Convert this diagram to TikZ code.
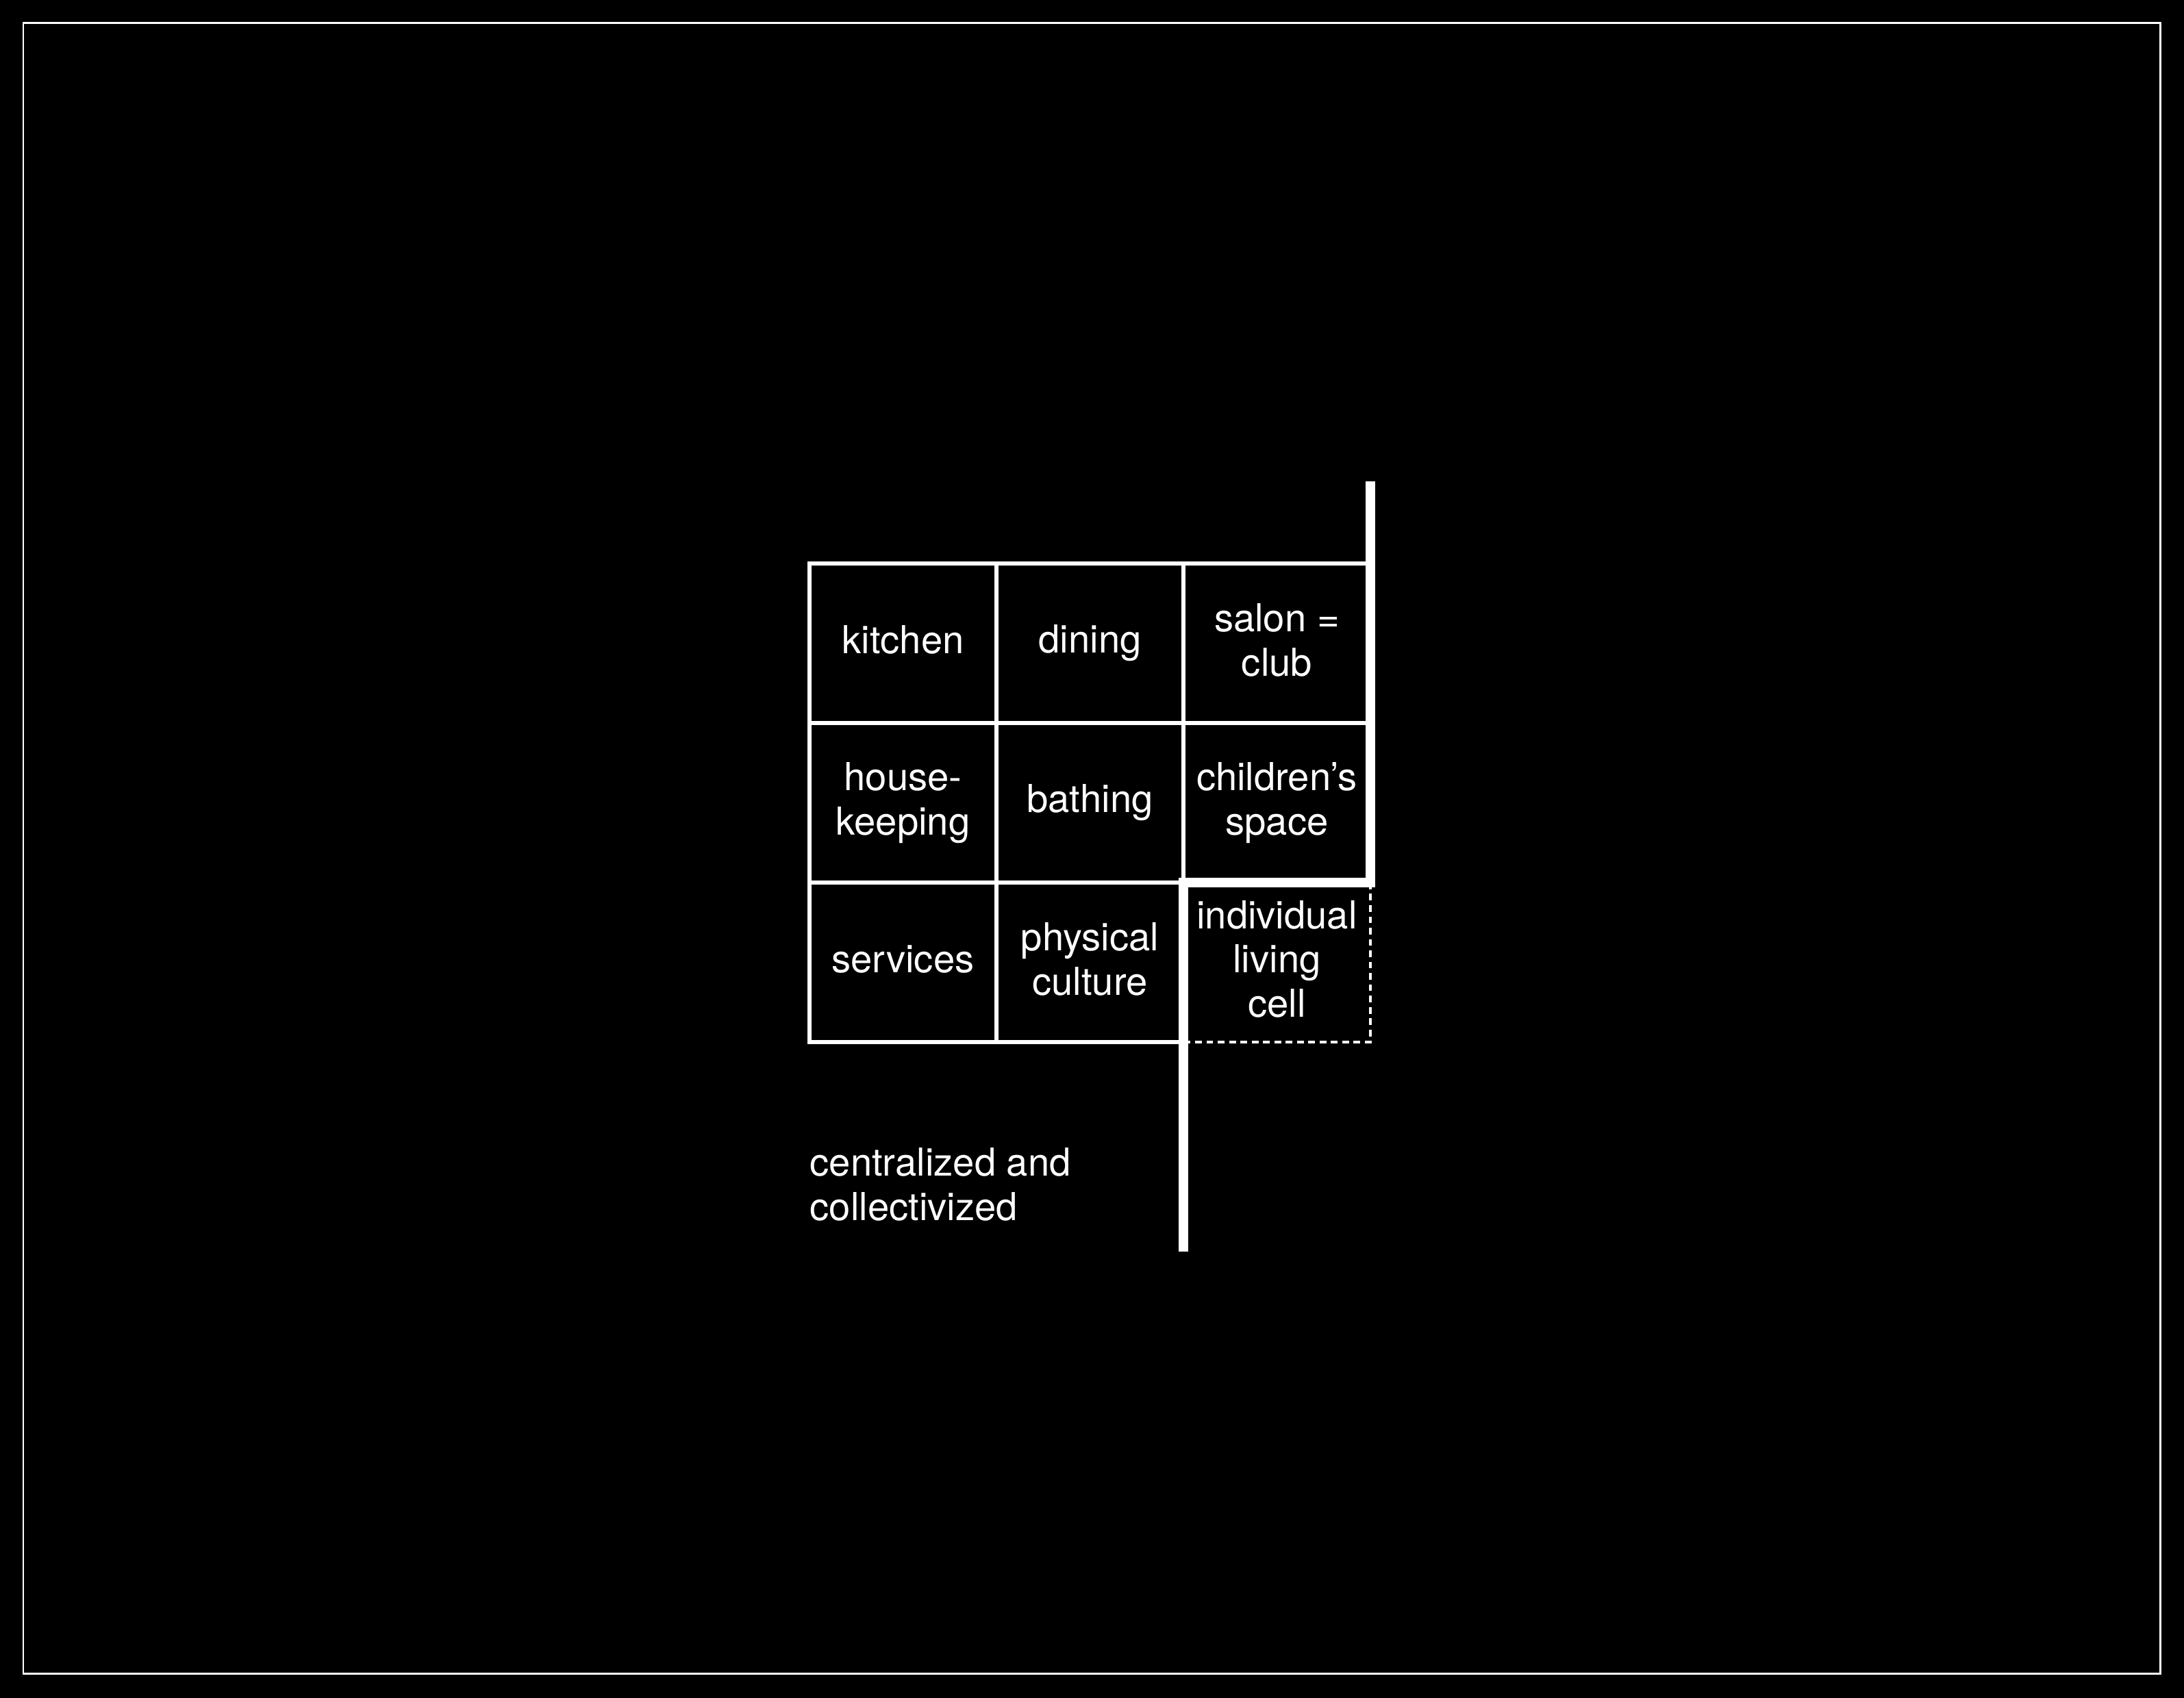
\documentclass[tikz,border=0pt]{standalone}
\usepackage{fontspec}
\setmainfont{TeX Gyre Heros}
\usetikzlibrary{positioning}
\begin{document}
\begin{tikzpicture}[line join=miter,line cap=butt,node distance=0pt,
	room/.style={draw=white,line width=1.5pt,minimum width=2.73cm,minimum height=2.33cm,inner sep=0pt,outer sep=0pt,
		align=center,text=white,font=\fontsize{16}{18.4}\selectfont,execute at end node=\rule[-2.9pt]{0pt}{0pt}},
	note/.style={align=left,text=white,inner sep=0pt,font=\fontsize{16}{18.4}\selectfont},
	wall/.style={draw=white,line width=4pt},
	open/.style={draw=white,line width=1.1pt,dash pattern=on 2.8pt off 1.9pt}]
	\fill[black] (0,0) rectangle (31.89,24.8);
	\useasboundingbox (0,0) rectangle (31.89,24.8);
	\draw[white,line width=.85pt] (.34,.35) rectangle (31.54,24.46);
	% the nine rooms
	\node[room] (kitchen) at (13.185,15.405) {kitchen};
	\node[room,right=of kitchen] (dining) {dining};
	\node[room,right=of dining] (salon) {salon =\\club};
	\node[room,below=of kitchen] (house) {house-\\keeping};
	\node[room,right=of house] (bathing) {bathing};
	\node[room,right=of bathing] (kids) {children’s\\space};
	\node[room,below=of house] (services) {services};
	\node[room,right=of services] (physical) {physical\\culture};
	\node[room,draw=none,right=of physical] (cell) {individual\\living\\cell};
	\draw[open] (cell.north east)--(cell.south east)--(cell.south west);
	% dividing wall
	\coordinate (walltop) at ([yshift=1.2cm]salon.north east);
	\coordinate (wallend) at ([yshift=-3.06cm]cell.south west);
	\draw[wall] (walltop)--(kids.south east)--(kids.south west)--(wallend);
	\node[note,below=1.54cm of services.south west,anchor=north west] (label) {centralized and\\collectivized};
\end{tikzpicture}
\end{document}
